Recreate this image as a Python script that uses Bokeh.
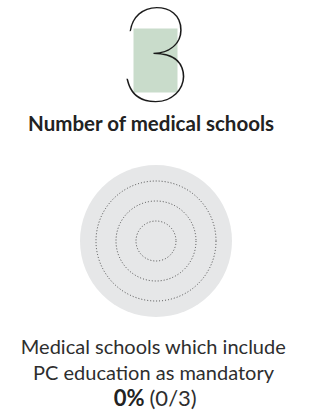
from bokeh.plotting import figure
from bokeh.models import Range1d, ColumnDataSource
from bokeh.core.properties import value
from bokeh.embed import file_html
from bokeh.resources import INLINE

# ---- data ----
n_schools = 3
schools = ["School 1", "School 2", "School 3"]
mandatory = [False, False, False]
title_text = "Number of medical schools"
caption_lines = ["Medical schools which include", "PC education as mandatory"]
n_mandatory = sum(mandatory)
pct_text = f"{round(100 * n_mandatory / n_schools)}%"
ratio_text = f"({n_mandatory}/{n_schools})"

W, H = 325, 415
p = figure(width=W, height=H, output_backend="svg", toolbar_location=None,
           x_range=Range1d(0, W), y_range=Range1d(H, 0),
           min_border=0, outline_line_color=None)
p.axis.visible = False
p.grid.visible = False
p.background_fill_color = "white"
p.border_fill_color = "white"
p.styles = {"position": "absolute", "top": "0px", "left": "0px"}

cx = 155.5

# big number with highlight
p.quad(left=[133], right=[177], top=[28], bottom=[92], fill_color="#c9dccb", line_color=None)
p.text(x=[cx], y=[54], text=[str(n_schools)], text_font=value("Lato Hairline"),
       text_font_size="132px", text_align="center", text_baseline="alphabetic",
       text_color="#1a1a1a")

# title
p.text(x=[151], y=[122], text=[title_text], text_font=value("Lato"), text_font_style="bold",
       text_font_size="20.5px", text_align="center", text_baseline="alphabetic",
       text_color="#222222")

# rings: one per school
cy = 240.5
p.circle(x=[cx], y=[cy], radius=76, fill_color="#e6e7e8", line_color=None)
step = 20
src = ColumnDataSource(dict(
    x=[cx] * len(schools), y=[cy] * len(schools),
    r=[step * (i + 1) for i in range(len(schools))],
))
p.circle(x="x", y="y", radius="r", source=src, fill_color=None,
         line_color="#3a3a3a", line_width=0.9, line_dash="1 2")

# caption
base = 345
for i, line in enumerate(caption_lines):
    p.text(x=[153], y=[base + 26 * i], text=[line], text_font=value("Lato"),
           text_font_size="20px", text_align="center", text_baseline="alphabetic",
           text_color="#2e2e2e")
p.text(x=[144], y=[base + 52], text=[pct_text], text_font=value("Lato"), text_font_style="bold",
       text_font_size="22px", text_align="right", text_baseline="alphabetic", text_color="#222222")
p.text(x=[149], y=[base + 52], text=[ratio_text], text_font=value("Lato"),
       text_font_size="22px", text_align="left", text_baseline="alphabetic", text_color="#2e2e2e")

open("out.html", "w").write(file_html(p, INLINE))
